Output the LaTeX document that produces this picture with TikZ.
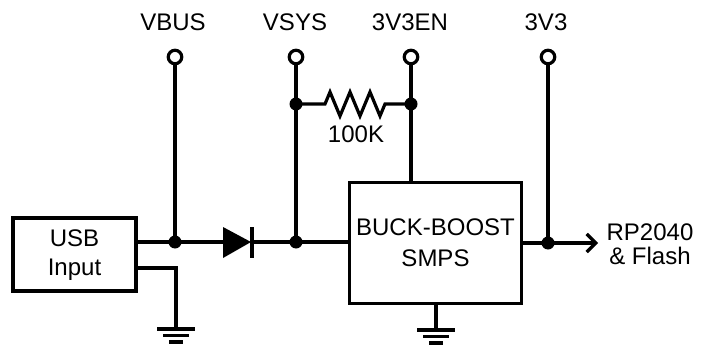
\documentclass[tikz,border=0pt]{standalone}
\usepackage{fontspec}
\setmainfont{Liberation Sans}
\usetikzlibrary{arrows.meta}
\begin{document}
\begin{tikzpicture}[x=1pt,y=-1pt,line width=3.2pt,
  txt/.style={font=\fontsize{24}{28}\selectfont,align=center,inner sep=0pt},
  box/.style={draw,line width=3.2pt,inner sep=0pt},
  dot/.style={circle,fill,inner sep=0pt,minimum size=13pt},
  term/.style={circle,draw,line width=3.2pt,fill=white,inner sep=0pt,minimum size=13.5pt},
  pics/gnd/.style={code={
    \draw[line width=3.2pt] (-19,0) -- (19,0);
    \draw[line width=3.2pt] (-13,6.5) -- (13,6.5);
    \draw[line width=3.2pt] (-7,13) -- (7,13);
  }}]
\useasboundingbox (0,0) rectangle (712,345);

% boxes
\node[box,minimum width=123pt,minimum height=73pt] (usb) at (74.5,254.5) {};
\node[txt,font=\fontsize{24}{29}\selectfont] at (74.5,255) {USB\\Input};
\node[box,minimum width=172pt,minimum height=121pt] (buck) at (435.5,243) {};
\node[txt,font=\fontsize{24}{31}\selectfont] at (435.5,243) {BUCK-BOOST\\SMPS};

% terminals
\node[term] (tvbus) at (175,57) {};
\node[term] (tvsys) at (296,57) {};
\node[term] (ten) at (411,57) {};
\node[term] (t33) at (548,57) {};
\node[txt] (lvbus) at (173,22) {VBUS};
\node[txt] (lvsys) at (295,22) {VSYS};
\node[txt] (len) at (410,22) {3V3EN};
\node[txt] (l33) at (546,22) {3V3};

% coordinates
\coordinate (jvbus) at (175,242);
\coordinate (dA) at (223,242);
\coordinate (dK) at (252,242);
\coordinate (jvsys) at (296,242);
\coordinate (jr1) at (296,104);
\coordinate (jr2) at (411,104);
\coordinate (j33) at (548,243);
\coordinate (out) at (598,243);
\coordinate (g1) at (176,268);
\coordinate (g1b) at (176,329);
\coordinate (g2) at (436,330);

% main wire
\draw (usb.east |- jvbus) -- (jvbus) -- (dA);
\fill (dA |- 0,227) -- (dA |- 0,258) -- (251,242) -- cycle;
\draw (252,227) -- (252,258);
\draw (dK) -- (jvsys) -- (buck.west |- jvsys);

% verticals
\draw (tvbus.south) -- (jvbus);
\draw (tvsys.south) -- (jvsys);
\draw (ten.south) -- (buck.north -| ten);
\draw (t33.south) -- (j33);

% resistor
\draw[line join=miter] (jr1) -- (325,104) -- (330,92) -- (340,116) -- (350,92) -- (360,116) -- (370,92) -- (380,116) -- (385,104) -- (jr2);
\node[txt] (r100k) at (356,134) {100K};

% output
\draw[-{Straight Barb[length=9pt,width=18pt,line width=3.2pt]}] (buck.east |- j33) -- (out);
\node[txt,font=\fontsize{24}{24}\selectfont] (rp) at (650,244) {RP2040\\\& Flash};

% grounds
\draw (usb.east |- g1) -- (g1) -- (g1b);
\pic at (g1b) {gnd};
\draw (buck.south -| g2) -- (g2);
\pic at (g2) {gnd};

% dots
\node[dot] at (jvbus) {};
\node[dot] at (jvsys) {};
\node[dot] at (jr1) {};
\node[dot] at (jr2) {};
\node[dot] at (j33) {};
\end{tikzpicture}
\end{document}
